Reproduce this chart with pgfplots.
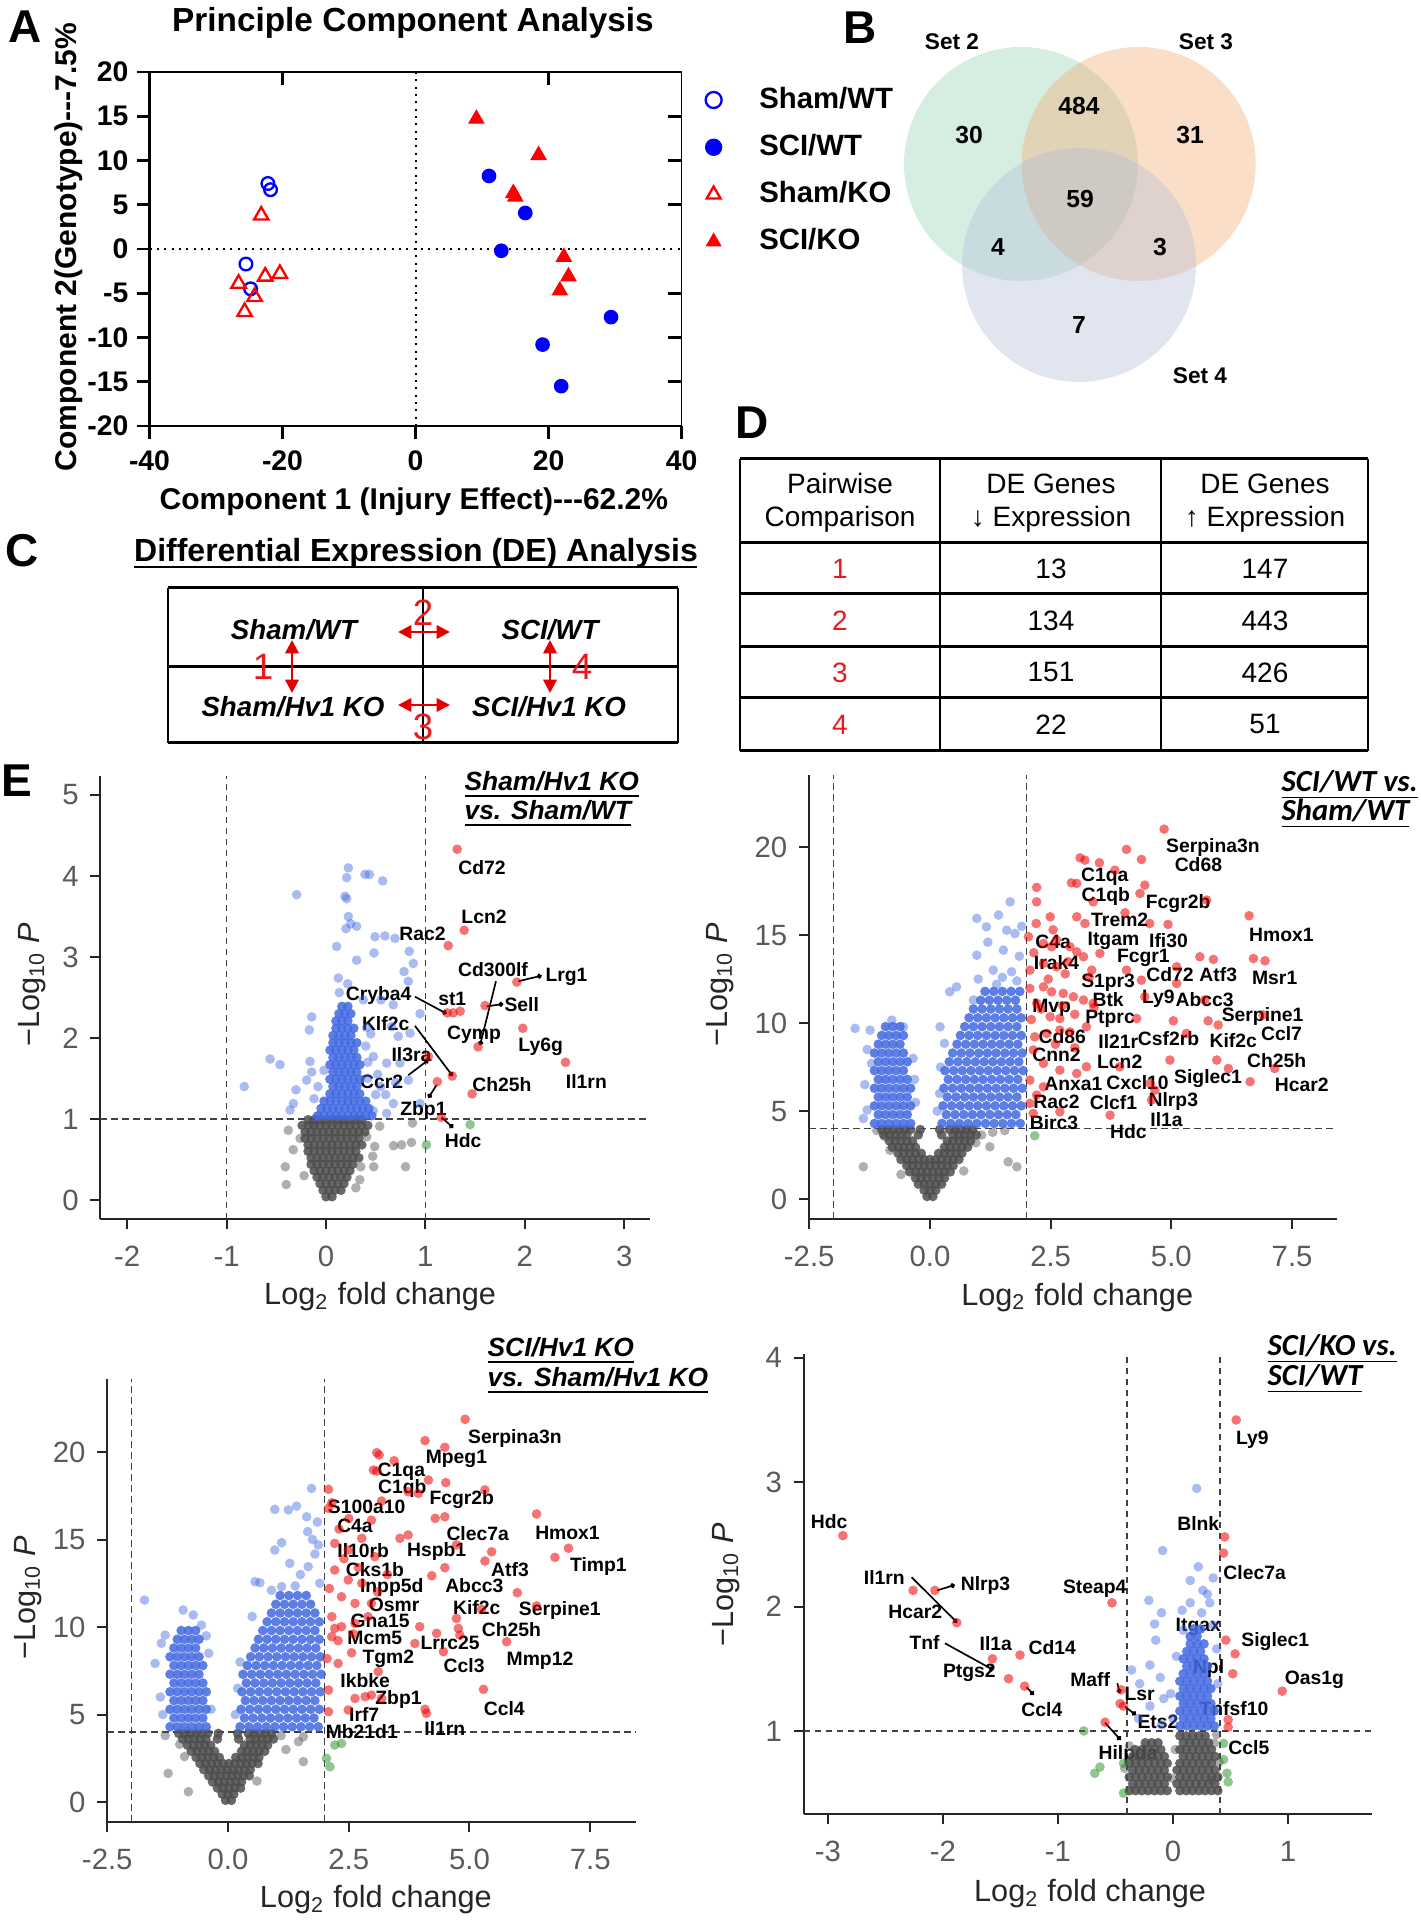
\documentclass[border=0pt]{standalone}
\usepackage{fontspec}
\setmainfont{Liberation Sans}
\newfontfamily\carlito{Carlito}
\usepackage{pgfplots}
\pgfplotsset{compat=1.18}
\usetikzlibrary{arrows.meta}

\definecolor{vgrey}{HTML}{4D4D4D}
\definecolor{vblue}{HTML}{4169E1}
\definecolor{vred}{HTML}{EE0000}
\definecolor{vgreen}{HTML}{228B22}
\definecolor{tickgrey}{HTML}{5A5A5A}
\definecolor{pcablue}{HTML}{0000FF}
\definecolor{pcared}{HTML}{FF0000}
\definecolor{cred}{HTML}{E8191C}
\definecolor{vennA}{HTML}{99D5B7}
\definecolor{vennB}{HTML}{F2AC75}
\definecolor{vennC}{HTML}{B4BED9}

\newcommand\gl[3]{\node[glab] at (axis cs:#1,#2) {#3};}
\newcommand\cn[4]{\draw[line width=0.5pt,-{Circle[length=1.5pt]}] (axis cs:#1,#2) -- (axis cs:#3,#4);}

\pgfplotsset{
 volc/.style={
  scale only axis, anchor=south west,
  axis lines*=left,
  axis line style={line width=0.6pt, draw=black!85, -},
  tick align=outside, major tick length=3pt,
  tick style={line width=0.6pt, color=black!85},
  ticklabel style={font=\fontsize{8.8}{10}\selectfont, text=tickgrey},
  xticklabel shift=1.6pt,
  /pgf/number format/assume math mode=true,
  label style={font=\fontsize{9.2}{11}\selectfont, text=black!85},
  xlabel={Log\textsubscript{2} fold change},
  ylabel={−Log\textsubscript{10} \textit{P}},
  clip=false,
 },
 gpt/.style={only marks, mark=*, mark size=1.45pt, color=vgrey, mark options={draw opacity=0, fill opacity=0.45}},
 gcore/.style={only marks, mark=*, mark size=1.45pt, color=vgrey, mark options={draw opacity=0, fill opacity=0.85}},
 bpt/.style={only marks, mark=*, mark size=1.45pt, color=vblue, mark options={draw opacity=0, fill opacity=0.45}},
 bcore/.style={only marks, mark=*, mark size=1.45pt, color=vblue, mark options={draw opacity=0, fill opacity=0.85}},
 rpt/.style={only marks, mark=*, mark size=1.45pt, color=vred, mark options={draw opacity=0, fill opacity=0.55}},
 gnpt/.style={only marks, mark=*, mark size=1.45pt, color=vgreen, mark options={draw opacity=0, fill opacity=0.5}},
}
\tikzset{
 glab/.style={font=\bfseries\fontsize{5.8}{6}\selectfont, inner sep=0pt, text=black},
 vdash/.style={dash pattern=on 2pt off 1.3pt, line width=0.45pt, black!75},
 pdot/.style={line width=0.6pt, dash pattern=on 0.6pt off 1.6pt},
}

\begin{document}
\begin{tikzpicture}
\useasboundingbox (0,0) rectangle (426pt,576pt);

% ---------------- A: PCA
\begin{axis}[
 scale only axis, anchor=south west, at={(44.85pt,448.2pt)},
 width=159.63pt, height=106.2pt,
 xmin=-40, xmax=40, ymin=-20, ymax=20,
 axis lines*=left, axis line style={line width=0.8pt, -},
 tick align=outside, major tick length=3.8pt, tick style={line width=0.8pt, black},
 xtick={-40,-20,0,20,40}, ytick={-20,-15,...,20},
 ticklabel style={font=\bfseries\fontsize{8.5}{10}\selectfont},
 yticklabel shift=-1pt,
 /pgf/number format/assume math mode=true,
 label style={font=\bfseries\fontsize{9}{11}\selectfont},
 xlabel={Component 1 (Injury Effect)-{}-{}-62.2\%},
 ylabel={Component 2(Genotype)-{}-{}-7.5\%},
 xlabel style={at={(axis description cs:0.497,-0.215)}, anchor=center},
 ylabel style={at={(axis description cs:-0.152,0.506)}, anchor=center},
 clip=false,
 legend style={at={(axis description cs:1.044,0.974)}, anchor=north west,
   draw=none, fill=none, inner sep=0pt, row sep=3.3pt,
   font=\bfseries\fontsize{8.8}{10}\selectfont, nodes={inner sep=1.5pt},
   /tikz/every odd column/.append style={column sep=9.8pt}},
 legend cell align=left,
 legend image post style={mark size=2.4pt},
]
\draw[pdot] (axis cs:0,-20) -- (axis cs:0,20);
\draw[pdot] (axis cs:-40,0) -- (axis cs:40,0);
\draw[line width=0.4pt] (axis cs:-40,20) -- (axis cs:40,20) -- (axis cs:40,-20);
\draw[line width=0.8pt] (axis cs:-20,20) -- ++(0pt,-4pt);
\draw[line width=0.8pt] (axis cs:20,20) -- ++(0pt,-4pt);
\draw[line width=0.8pt] (axis cs:40,15) -- ++(-4pt,0pt);
\draw[line width=0.8pt] (axis cs:40,10) -- ++(-4pt,0pt);
\draw[line width=0.8pt] (axis cs:40,5) -- ++(-4pt,0pt);
\draw[line width=0.8pt] (axis cs:40,-5) -- ++(-4pt,0pt);
\draw[line width=0.8pt] (axis cs:40,-10) -- ++(-4pt,0pt);
\draw[line width=0.8pt] (axis cs:40,-15) -- ++(-4pt,0pt);
\addplot[only marks, mark=o, mark size=1.9pt, pcablue, line width=0.7pt]
 coordinates {(-22.2,7.4) (-21.8,6.7) (-25.5,-1.7) (-24.8,-4.5)};
\addlegendentry{Sham/WT}
\addplot[only marks, mark=*, mark size=2pt, pcablue]
 coordinates {(11.05,8.25) (16.5,4.07) (12.9,-0.2) (29.4,-7.7) (19.1,-10.8) (21.9,-15.5)};
\addlegendentry{SCI/WT}
\addplot[only marks, mark=triangle, mark size=2.5pt, pcared, line width=0.7pt]
 coordinates {(-23.2,3.8) (-26.6,-3.9) (-22.6,-3.1) (-20.4,-2.8) (-24.2,-5.4) (-25.7,-7.1)};
\addlegendentry{Sham/KO}
\addplot[only marks, mark=triangle*, mark size=2.5pt, pcared]
 coordinates {(9.15,14.7) (18.5,10.6) (14.7,6.3) (15.0,5.9) (22.3,-0.9) (23.0,-3.1) (21.7,-4.7)};
\addlegendentry{SCI/KO}
\end{axis}

% ---------------- E1: Sham/Hv1 KO vs Sham/WT
\begin{axis}[volc, at={(30.12pt,210.18pt)}, width=164.88pt, height=132.9pt,
 xmin=-2.27, xmax=3.26, ymin=-0.24, ymax=5.23,
 xtick={-2,-1,0,1,2,3}, ytick={0,1,2,3,4,5},
 xlabel style={at={(axis description cs:0.509,-0.175)}, anchor=center},
 ylabel style={at={(axis description cs:-0.1245,0.53)}, anchor=center},
]
\draw[vdash] (axis cs:-1,-0.24) -- (axis cs:-1,5.23);
\draw[vdash] (axis cs:1,-0.24) -- (axis cs:1,5.23);
\draw[vdash] (axis cs:-2.27,1) -- (axis cs:3.26,1);
\addplot[gpt] coordinates {(-0.41,0.41) (-0.40,0.19) (-0.26,0.76) (-0.33,0.62) (-0.38,0.86) (-0.13,0.93) (0.48,0.41) (0.47,0.54) (0.49,0.66) (0.54,0.91) (0.80,0.41) (0.68,0.67) (0.76,0.68) (0.86,0.71) (0.87,0.95) (0.41,0.78) (0.34,0.25) (0.35,0.41) (-0.22,0.30) (0.30,0.15)};
\addplot[gcore] coordinates {(0.00,0.04) (0.06,0.04)
 (-0.03,0.12) (0.03,0.12) (0.09,0.12) (0.15,0.12)
 (-0.06,0.2) (0,0.2) (0.06,0.2) (0.12,0.2) (0.18,0.2)
 (-0.09,0.28) (-0.03,0.28) (0.03,0.28) (0.09,0.28) (0.15,0.28) (0.21,0.28)
 (-0.12,0.36) (-0.06,0.36) (0,0.36) (0.06,0.36) (0.12,0.36) (0.18,0.36) (0.24,0.36)
 (-0.15,0.44) (-0.09,0.44) (-0.03,0.44) (0.03,0.44) (0.09,0.44) (0.15,0.44) (0.21,0.44) (0.27,0.44)
 (-0.15,0.52) (-0.09,0.52) (-0.03,0.52) (0.03,0.52) (0.09,0.52) (0.15,0.52) (0.21,0.52) (0.27,0.52) (0.33,0.52)
 (-0.18,0.6) (-0.12,0.6) (-0.06,0.6) (0,0.6) (0.06,0.6) (0.12,0.6) (0.18,0.6) (0.24,0.6) (0.30,0.6)
 (-0.18,0.68) (-0.12,0.68) (-0.06,0.68) (0,0.68) (0.06,0.68) (0.12,0.68) (0.18,0.68) (0.24,0.68) (0.30,0.68) (0.36,0.68)
 (-0.21,0.76) (-0.15,0.76) (-0.09,0.76) (-0.03,0.76) (0.03,0.76) (0.09,0.76) (0.15,0.76) (0.21,0.76) (0.27,0.76) (0.33,0.76)
 (-0.21,0.84) (-0.15,0.84) (-0.09,0.84) (-0.03,0.84) (0.03,0.84) (0.09,0.84) (0.15,0.84) (0.21,0.84) (0.27,0.84) (0.33,0.84) (0.39,0.84)
 (-0.24,0.92) (-0.18,0.92) (-0.12,0.92) (-0.06,0.92) (0,0.92) (0.06,0.92) (0.12,0.92) (0.18,0.92) (0.24,0.92) (0.30,0.92) (0.36,0.92) (0.42,0.92)
 (-0.18,0.99) (-0.12,0.99) (-0.06,0.99) (0,0.99) (0.06,0.99) (0.12,0.99) (0.18,0.99) (0.24,0.99) (0.30,0.99) (0.36,0.99)};
\addplot[bpt] coordinates {(0.225,4.10) (0.208,3.98) (0.392,4.02) (0.436,4.02) (0.570,3.94) (-0.295,3.77) (0.208,3.72) (0.191,3.75) (0.225,3.50) (0.248,3.41) (0.308,3.38) (0.201,3.35) (0.493,3.25) (0.593,3.26) (0.694,3.23) (0.107,3.13) (0.483,3.05) (0.308,2.96) (0.838,3.07) (0.878,2.92) (0.785,2.82) (0.828,2.70) (0.124,2.74) (0.218,2.67) (0.134,2.56) (0.375,2.47) (0.553,2.47) (0.677,2.41) (0.946,2.30) (-0.144,2.26) (-0.168,2.10) (0.409,2.13) (0.660,2.14) (0.727,2.02) (0.845,2.06) (-0.563,1.74) (-0.463,1.67) (-0.161,1.71) (-0.144,1.58) (-0.302,1.36) (-0.822,1.40) (-0.329,1.19) (-0.195,1.48) (0.610,1.69) (0.744,1.69) (0.476,1.77) (0.677,1.19) (0.946,1.19) (0.828,1.48) (0.476,1.10) (0.610,1.07) (-0.362,1.11) (-0.094,1.03) (-0.12,1.25) (0.50,1.30) (0.55,1.40) (0.42,1.50) (0.42,1.70) (0.40,1.90) (0.45,2.05) (-0.02,1.60) (-0.08,1.40) (0.60,1.30) (0.70,1.45) (0.52,1.55)};
\addplot[bcore] coordinates {(-0.08,1.04) (-0.02,1.04) (0.04,1.04) (0.10,1.04) (0.16,1.04) (0.22,1.04) (0.28,1.04) (0.34,1.04) (0.40,1.04) (0.46,1.04)
 (-0.05,1.13) (0.01,1.13) (0.07,1.13) (0.13,1.13) (0.19,1.13) (0.25,1.13) (0.31,1.13) (0.37,1.13) (0.43,1.13)
 (-0.02,1.22) (0.04,1.22) (0.10,1.22) (0.16,1.22) (0.22,1.22) (0.28,1.22) (0.34,1.22) (0.40,1.22)
 (0.04,1.31) (0.10,1.31) (0.16,1.31) (0.22,1.31) (0.28,1.31) (0.34,1.31)
 (0.07,1.40) (0.13,1.40) (0.19,1.40) (0.25,1.40) (0.31,1.40)
 (0.04,1.49) (0.10,1.49) (0.16,1.49) (0.22,1.49) (0.28,1.49) (0.34,1.49)
 (0.07,1.58) (0.13,1.58) (0.19,1.58) (0.25,1.58) (0.31,1.58)
 (0.04,1.67) (0.10,1.67) (0.16,1.67) (0.22,1.67) (0.28,1.67) (0.34,1.67)
 (0.07,1.76) (0.13,1.76) (0.19,1.76) (0.25,1.76) (0.31,1.76)
 (0.04,1.85) (0.10,1.85) (0.16,1.85) (0.22,1.85) (0.28,1.85)
 (0.07,1.94) (0.13,1.94) (0.19,1.94) (0.25,1.94) (0.31,1.94)
 (0.07,2.03) (0.13,2.03) (0.19,2.03) (0.25,2.03)
 (0.10,2.12) (0.16,2.12) (0.22,2.12) (0.28,2.12)
 (0.10,2.21) (0.16,2.21) (0.22,2.21)
 (0.13,2.30) (0.19,2.30) (0.25,2.30)
 (0.16,2.39) (0.22,2.39)};
\addplot[gnpt] coordinates {(1.45,0.93) (1.01,0.68)};
\addplot[rpt] coordinates {(1.32,4.33) (1.39,3.33) (1.23,3.14) (1.92,2.69) (1.60,2.40) (1.22,2.31) (1.28,2.31) (1.35,2.33) (1.98,2.12) (1.53,1.89) (1.03,1.77) (2.41,1.70) (1.27,1.53) (1.12,1.46) (1.47,1.31) (1.16,1.02)};
\cn{1.71}{2.70}{1.55}{1.91}
\cn{1.935}{2.70}{2.17}{2.77}
\cn{1.616}{2.39}{1.784}{2.42}
\cn{0.895}{2.51}{1.214}{2.30}
\cn{0.895}{2.15}{1.274}{1.53}
\cn{0.828}{1.54}{1.03}{1.73}
\cn{1.113}{1.42}{1.03}{1.26}
\cn{1.164}{1.02}{1.28}{0.89}
\gl{1.57}{4.10}{Cd72}
\gl{1.59}{3.50}{Lcn2}
\gl{0.97}{3.28}{Rac2}
\gl{1.68}{2.84}{Cd300lf}
\gl{2.42}{2.75}{Lrg1}
\gl{1.97}{2.41}{Sell}
\gl{0.53}{2.53}{Cryba4}
\gl{1.27}{2.48}{st1}
\gl{0.60}{2.18}{Klf2c}
\gl{0.86}{1.80}{Il3ra}
\gl{0.56}{1.46}{Ccr2}
\gl{1.49}{2.04}{Cymp}
\gl{2.16}{1.89}{Ly6g}
\gl{2.62}{1.46}{Il1rn}
\gl{1.77}{1.43}{Ch25h}
\gl{0.98}{1.10}{Zbp1}
\gl{1.38}{0.73}{Hdc}
\end{axis}

% ---------------- E2: SCI/WT vs Sham/WT
\begin{axis}[volc, at={(242.7pt,210.3pt)}, width=158.4pt, height=133.26pt,
 xmin=-2.505, xmax=8.43, ymin=-1.13, ymax=24.11,
 xtick={-2.5,0,2.5,5,7.5}, xticklabels={-2.5,0.0,2.5,5.0,7.5}, ytick={0,5,10,15,20},
 xlabel style={at={(axis description cs:0.508,-0.176)}, anchor=center},
 ylabel style={at={(axis description cs:-0.169,0.528)}, anchor=center},
]
\draw[vdash] (axis cs:-2,-1.13) -- (axis cs:-2,24.11);
\draw[vdash] (axis cs:2,-1.13) -- (axis cs:2,24.11);
\draw[vdash] (axis cs:-2.505,4) -- (axis cs:8.43,4);
\addplot[gpt] coordinates {(-1.38,1.84) (1.80,1.84) (1.62,2.12) (1.07,3.64) (1.24,2.97) (-0.93,3.54) (-0.83,2.78) (1.30,3.80) (-1.10,3.90) (0.95,3.20) (1.55,3.90) (-0.60,1.40) (0.70,1.60)};
\addplot[gcore] coordinates {(-0.06,0.15) (0.06,0.15)
 (-0.12,0.5) (0,0.5) (0.12,0.5)
 (-0.24,0.85) (-0.12,0.85) (0,0.85) (0.12,0.85) (0.24,0.85)
 (-0.30,1.2) (-0.18,1.2) (-0.06,1.2) (0.06,1.2) (0.18,1.2) (0.30,1.2)
 (-0.42,1.55) (-0.30,1.55) (-0.18,1.55) (-0.06,1.55) (0.06,1.55) (0.18,1.55) (0.30,1.55) (0.42,1.55)
 (-0.48,1.9) (-0.36,1.9) (-0.24,1.9) (-0.12,1.9) (0,1.9) (0.12,1.9) (0.24,1.9) (0.36,1.9) (0.48,1.9)
 (-0.60,2.25) (-0.48,2.25) (-0.36,2.25) (-0.24,2.25) (-0.12,2.25) (0,2.25) (0.12,2.25) (0.24,2.25) (0.36,2.25) (0.48,2.25) (0.60,2.25)
 (-0.66,2.6) (-0.54,2.6) (-0.42,2.6) (-0.30,2.6) (-0.18,2.6) (0.18,2.6) (0.30,2.6) (0.42,2.6) (0.54,2.6) (0.66,2.6)
 (-0.78,2.95) (-0.66,2.95) (-0.54,2.95) (-0.42,2.95) (-0.30,2.95) (0.30,2.95) (0.42,2.95) (0.54,2.95) (0.66,2.95) (0.78,2.95)
 (-0.84,3.3) (-0.72,3.3) (-0.60,3.3) (-0.48,3.3) (-0.36,3.3) (0.36,3.3) (0.48,3.3) (0.60,3.3) (0.72,3.3) (0.84,3.3)
 (-0.96,3.65) (-0.84,3.65) (-0.72,3.65) (-0.60,3.65) (-0.48,3.65) (-0.24,3.65) (0.24,3.65) (0.48,3.65) (0.60,3.65) (0.72,3.65) (0.84,3.65) (0.96,3.65)
 (-1.00,3.95) (-0.88,3.95) (-0.76,3.95) (-0.64,3.95) (-0.52,3.95) (-0.40,3.95) (-0.20,3.95) (0.20,3.95) (0.40,3.95) (0.52,3.95) (0.64,3.95) (0.76,3.95) (0.88,3.95)};
\addplot[bpt] coordinates {(-1.55,9.70) (-1.24,9.60) (-1.38,4.58) (-1.21,7.71) (-1.30,5.06) (-0.79,10.17) (-0.55,9.79) (-1.30,8.50) (-1.35,6.50) (-0.35,8.00) (-0.30,5.50) (-0.32,6.80) (1.66,16.89) (1.42,16.14) (0.97,15.95) (1.17,15.47) (1.59,15.28) (1.76,15.09) (1.52,14.15) (0.97,13.86) (1.31,13.01) (1.69,12.92) (0.55,12.06) (0.41,11.78) (0.90,11.31) (1.38,12.20) (1.80,12.4) (0.21,9.79) (0.30,8.85) (1.20,14.60) (1.85,13.80) (1.50,12.60) (1.00,12.50) (1.90,15.50) (0.20,6.00) (0.15,5.00) (0.22,7.50)};
\addplot[bcore] coordinates {(-1.15,4.3) (-1.0,4.3) (-0.85,4.3) (-0.7,4.3) (-0.55,4.3) (-0.4,4.3)
 (-1.07,4.8) (-0.92,4.8) (-0.77,4.8) (-0.62,4.8) (-0.47,4.8)
 (-1.15,5.3) (-1.0,5.3) (-0.85,5.3) (-0.7,5.3) (-0.55,5.3) (-0.4,5.3)
 (-1.07,5.8) (-0.92,5.8) (-0.77,5.8) (-0.62,5.8) (-0.47,5.8)
 (-1.15,6.3) (-1.0,6.3) (-0.85,6.3) (-0.7,6.3) (-0.55,6.3) (-0.4,6.3)
 (-1.07,6.8) (-0.92,6.8) (-0.77,6.8) (-0.62,6.8) (-0.47,6.8)
 (-1.15,7.3) (-1.0,7.3) (-0.85,7.3) (-0.7,7.3) (-0.55,7.3)
 (-1.07,7.8) (-0.92,7.8) (-0.77,7.8) (-0.62,7.8) (-0.47,7.8)
 (-1.15,8.3) (-1.0,8.3) (-0.85,8.3) (-0.7,8.3) (-0.55,8.3)
 (-1.07,8.8) (-0.92,8.8) (-0.77,8.8) (-0.62,8.8)
 (-1.0,9.3) (-0.85,9.3) (-0.7,9.3) (-0.55,9.3)
 (-0.92,9.8) (-0.77,9.8) (-0.62,9.8)
 (0.25,4.3) (0.43,4.3) (0.61,4.3) (0.79,4.3) (0.97,4.3) (1.15,4.3) (1.33,4.3) (1.51,4.3) (1.69,4.3) (1.87,4.3)
 (0.34,4.8) (0.52,4.8) (0.70,4.8) (0.88,4.8) (1.06,4.8) (1.24,4.8) (1.42,4.8) (1.60,4.8) (1.78,4.8)
 (0.27,5.3) (0.45,5.3) (0.63,5.3) (0.81,5.3) (0.99,5.3) (1.17,5.3) (1.35,5.3) (1.53,5.3) (1.71,5.3) (1.89,5.3)
 (0.36,5.8) (0.54,5.8) (0.72,5.8) (0.90,5.8) (1.08,5.8) (1.26,5.8) (1.44,5.8) (1.62,5.8) (1.80,5.8)
 (0.29,6.3) (0.47,6.3) (0.65,6.3) (0.83,6.3) (1.01,6.3) (1.19,6.3) (1.37,6.3) (1.55,6.3) (1.73,6.3) (1.91,6.3)
 (0.38,6.8) (0.56,6.8) (0.74,6.8) (0.92,6.8) (1.10,6.8) (1.28,6.8) (1.46,6.8) (1.64,6.8) (1.82,6.8)
 (0.31,7.3) (0.49,7.3) (0.67,7.3) (0.85,7.3) (1.03,7.3) (1.21,7.3) (1.39,7.3) (1.57,7.3) (1.75,7.3) (1.93,7.3)
 (0.40,7.8) (0.58,7.8) (0.76,7.8) (0.94,7.8) (1.12,7.8) (1.30,7.8) (1.48,7.8) (1.66,7.8) (1.84,7.8)
 (0.47,8.3) (0.65,8.3) (0.83,8.3) (1.01,8.3) (1.19,8.3) (1.37,8.3) (1.55,8.3) (1.73,8.3) (1.91,8.3)
 (0.56,8.8) (0.74,8.8) (0.92,8.8) (1.10,8.8) (1.28,8.8) (1.46,8.8) (1.64,8.8) (1.82,8.8)
 (0.63,9.3) (0.81,9.3) (0.99,9.3) (1.17,9.3) (1.35,9.3) (1.53,9.3) (1.71,9.3) (1.89,9.3)
 (0.72,9.8) (0.90,9.8) (1.08,9.8) (1.26,9.8) (1.44,9.8) (1.62,9.8) (1.80,9.8)
 (0.81,10.3) (0.99,10.3) (1.17,10.3) (1.35,10.3) (1.53,10.3) (1.71,10.3) (1.89,10.3)
 (0.90,10.8) (1.08,10.8) (1.26,10.8) (1.44,10.8) (1.62,10.8) (1.80,10.8)
 (1.05,11.3) (1.23,11.3) (1.41,11.3) (1.59,11.3) (1.77,11.3)
 (1.14,11.8) (1.32,11.8) (1.50,11.8) (1.68,11.8) (1.86,11.8)};
\addplot[gnpt] coordinates {(2.17,3.60)};
\addplot[rpt] coordinates {(4.85,21.02) (4.07,19.87) (4.38,19.30) (3.11,19.39) (3.21,19.26) (3.51,19.11) (3.83,18.69) (3.04,17.94) (2.93,17.97) (4.45,17.84) (4.35,17.37) (2.21,17.71) (2.21,16.89) (5.73,16.99) (3.38,16.89) (4.04,16.27) (6.61,16.10) (2.49,16.04) (3.04,16.04) (2.20,15.66) (3.21,15.66) (4.93,15.61) (4.55,15.66) (2.04,14.91) (2.35,14.53) (2.52,14.34) (2.62,14.72) (2.90,14.34) (3.04,14.05) (3.18,13.77) (3.52,13.96) (5.59,13.77) (5.87,13.62) (6.70,13.67) (6.94,13.54) (5.11,13.20) (4.07,13.01) (2.07,13.01) (2.35,13.39) (2.62,13.20) (2.86,13.49) (3.35,13.01) (5.11,12.25) (4.38,12.44) (2.07,11.97) (2.35,12.06) (2.52,11.78) (2.76,11.69) (2.97,11.50) (3.18,11.31) (3.38,11.12) (4.45,11.50) (5.69,11.31) (2.21,11.12) (2.49,10.36) (2.69,10.26) (5.04,10.13) (5.76,10.13) (6.90,10.46) (4.28,10.26) (2.17,9.22) (2.42,9.41) (2.69,9.60) (3.24,9.79) (5.31,9.41) (5.97,9.89) (2.14,8.47) (2.35,7.71) (2.69,7.33) (4.97,7.90) (5.94,7.90) (6.18,7.42) (7.14,7.42) (3.24,7.52) (3.93,7.52) (2.07,6.76) (2.35,6.38) (2.21,5.91) (3.04,7.14) (6.63,6.67) (4.56,6.57) (4.66,6.19) (2.07,5.44) (2.69,4.96) (3.73,4.77) (4.59,5.63) (2.14,4.87) (3.00,10.50) (3.40,10.90) (2.80,12.80) (3.30,12.60) (2.30,10.80) (2.60,8.80) (3.00,8.60) (2.90,9.50) (2.10,10.2) (2.45,12.5) (2.75,11.0) (2.15,14.0) (2.55,15.3)};
\gl{5.86}{19.96}{Serpina3n}
\gl{5.56}{18.98}{Cd68}
\gl{3.62}{18.31}{C1qa}
\gl{3.64}{17.18}{C1qb}
\gl{5.14}{16.80}{Fcgr2b}
\gl{3.93}{15.85}{Trem2}
\gl{7.28}{15.00}{Hmox1}
\gl{2.55}{14.62}{C4a}
\gl{3.80}{14.68}{Itgam}
\gl{4.94}{14.68}{Ifi30}
\gl{2.62}{13.43}{Irak4}
\gl{4.42}{13.68}{Fcgr1}
\gl{4.97}{12.73}{Cd72}
\gl{5.97}{12.73}{Atf3}
\gl{7.14}{12.54}{Msr1}
\gl{3.69}{12.29}{S1pr3}
\gl{3.69}{11.31}{Btk}
\gl{4.73}{11.40}{Ly9}
\gl{5.69}{11.31}{Abcc3}
\gl{2.52}{10.89}{Mvp}
\gl{6.89}{10.36}{Serpine1}
\gl{3.73}{10.27}{Ptprc}
\gl{7.28}{9.41}{Ccl7}
\gl{2.74}{9.22}{Cd86}
\gl{3.90}{8.97}{Il21r}
\gl{4.94}{9.13}{Csf2rb}
\gl{6.28}{9.03}{Kif2c}
\gl{2.62}{8.18}{Cnn2}
\gl{7.18}{7.86}{Ch25h}
\gl{3.93}{7.80}{Lcn2}
\gl{2.97}{6.53}{Anxa1}
\gl{4.30}{6.62}{Cxcl10}
\gl{5.76}{6.86}{Siglec1}
\gl{7.70}{6.48}{Hcar2}
\gl{2.62}{5.53}{Rac2}
\gl{3.80}{5.47}{Clcf1}
\gl{5.04}{5.57}{Nlrp3}
\gl{4.90}{4.49}{Il1a}
\gl{2.57}{4.36}{Birc3}
\gl{4.11}{3.83}{Hdc}
\end{axis}

% ---------------- E3: SCI/Hv1 KO vs Sham/Hv1 KO
\begin{axis}[volc, at={(32.18pt,29.4pt)}, width=158.64pt, height=133.05pt,
 xmin=-2.5, xmax=8.45, ymin=-1.14, ymax=24.2,
 xtick={-2.5,0,2.5,5,7.5}, xticklabels={-2.5,0.0,2.5,5.0,7.5}, ytick={0,5,10,15,20},
 xlabel style={at={(axis description cs:0.508,-0.176)}, anchor=center},
 ylabel style={at={(axis description cs:-0.150,0.506)}, anchor=center},
]
\draw[vdash] (axis cs:-2,-1.14) -- (axis cs:-2,24.2);
\draw[vdash] (axis cs:2,-1.14) -- (axis cs:2,24.2);
\draw[vdash] (axis cs:-2.5,4) -- (axis cs:8.45,4);
\addplot[gpt] coordinates {(-1.24,1.64) (-0.82,0.59) (1.56,2.31) (1.56,3.73) (1.46,3.45) (-1.00,3.30) (1.20,3.00) (-0.90,2.60) (-1.30,3.80) (1.10,3.80) (0.60,1.20)};
\addplot[gcore] coordinates {(-0.05,0.1) (0.07,0.1)
 (-0.12,0.45) (0,0.45) (0.12,0.45)
 (-0.22,0.8) (-0.10,0.8) (0.02,0.8) (0.14,0.8) (0.26,0.8)
 (-0.32,1.15) (-0.20,1.15) (-0.08,1.15) (0.04,1.15) (0.16,1.15) (0.28,1.15)
 (-0.40,1.5) (-0.28,1.5) (-0.16,1.5) (-0.04,1.5) (0.08,1.5) (0.20,1.5) (0.32,1.5) (0.44,1.5)
 (-0.50,1.85) (-0.38,1.85) (-0.26,1.85) (-0.14,1.85) (-0.02,1.85) (0.10,1.85) (0.22,1.85) (0.34,1.85) (0.46,1.85)
 (-0.58,2.2) (-0.46,2.2) (-0.34,2.2) (-0.22,2.2) (-0.10,2.2) (0.02,2.2) (0.14,2.2) (0.26,2.2) (0.38,2.2) (0.50,2.2) (0.62,2.2)
 (-0.66,2.55) (-0.54,2.55) (-0.42,2.55) (-0.30,2.55) (-0.18,2.55) (0.16,2.55) (0.28,2.55) (0.40,2.55) (0.52,2.55) (0.64,2.55)
 (-0.76,2.9) (-0.64,2.9) (-0.52,2.9) (-0.40,2.9) (-0.28,2.9) (0.28,2.9) (0.40,2.9) (0.52,2.9) (0.64,2.9) (0.76,2.9)
 (-0.84,3.25) (-0.72,3.25) (-0.60,3.25) (-0.48,3.25) (-0.36,3.25) (0.34,3.25) (0.46,3.25) (0.58,3.25) (0.70,3.25) (0.82,3.25)
 (-0.94,3.6) (-0.82,3.6) (-0.70,3.6) (-0.58,3.6) (-0.46,3.6) (-0.22,3.6) (0.22,3.6) (0.46,3.6) (0.58,3.6) (0.70,3.6) (0.82,3.6) (0.94,3.6)
 (-1.02,3.92) (-0.90,3.92) (-0.78,3.92) (-0.66,3.92) (-0.54,3.92) (-0.42,3.92) (-0.20,3.92) (0.20,3.92) (0.42,3.92) (0.54,3.92) (0.66,3.92) (0.78,3.92) (0.90,3.92)};
\addplot[bpt] coordinates {(-1.73,11.54) (-1.51,7.92) (-0.93,10.97) (-0.72,10.69) (-0.55,10.11) (-1.30,9.54) (-1.38,9.07) (-1.40,6.00) (-0.40,8.50) (-0.35,5.30) (-1.35,5.00) (-0.45,9.50) (1.73,17.92) (0.97,16.72) (1.25,16.69) (1.42,16.91) (1.63,16.30) (1.65,15.45) (1.87,14.69) (1.11,14.82) (0.97,14.40) (1.80,14.17) (1.66,13.45) (1.28,13.64) (0.56,12.59) (0.66,12.53) (0.90,12.10) (1.11,12.31) (1.39,12.35) (0.50,10.60) (1.90,12.50) (1.50,13.00) (1.85,16.00) (1.75,15.00) (0.20,6.50) (0.15,5.00) (0.25,8.0)};
\addplot[bcore] coordinates {(-1.2,4.3) (-1.05,4.3) (-0.9,4.3) (-0.75,4.3) (-0.6,4.3) (-0.45,4.3)
 (-1.12,4.8) (-0.97,4.8) (-0.82,4.8) (-0.67,4.8) (-0.52,4.8)
 (-1.2,5.3) (-1.05,5.3) (-0.9,5.3) (-0.75,5.3) (-0.6,5.3) (-0.45,5.3)
 (-1.12,5.8) (-0.97,5.8) (-0.82,5.8) (-0.67,5.8) (-0.52,5.8)
 (-1.2,6.3) (-1.05,6.3) (-0.9,6.3) (-0.75,6.3) (-0.6,6.3) (-0.45,6.3)
 (-1.12,6.8) (-0.97,6.8) (-0.82,6.8) (-0.67,6.8) (-0.52,6.8)
 (-1.2,7.3) (-1.05,7.3) (-0.9,7.3) (-0.75,7.3) (-0.6,7.3)
 (-1.12,7.8) (-0.97,7.8) (-0.82,7.8) (-0.67,7.8) (-0.52,7.8)
 (-1.2,8.3) (-1.05,8.3) (-0.9,8.3) (-0.75,8.3) (-0.6,8.3)
 (-1.12,8.8) (-0.97,8.8) (-0.82,8.8) (-0.67,8.8)
 (-1.05,9.3) (-0.9,9.3) (-0.75,9.3) (-0.6,9.3)
 (-0.97,9.8) (-0.82,9.8) (-0.67,9.8)
 (0.25,4.3) (0.43,4.3) (0.61,4.3) (0.79,4.3) (0.97,4.3) (1.15,4.3) (1.33,4.3) (1.51,4.3) (1.69,4.3) (1.87,4.3)
 (0.34,4.8) (0.52,4.8) (0.70,4.8) (0.88,4.8) (1.06,4.8) (1.24,4.8) (1.42,4.8) (1.60,4.8) (1.78,4.8)
 (0.27,5.3) (0.45,5.3) (0.63,5.3) (0.81,5.3) (0.99,5.3) (1.17,5.3) (1.35,5.3) (1.53,5.3) (1.71,5.3) (1.89,5.3)
 (0.36,5.8) (0.54,5.8) (0.72,5.8) (0.90,5.8) (1.08,5.8) (1.26,5.8) (1.44,5.8) (1.62,5.8) (1.80,5.8)
 (0.29,6.3) (0.47,6.3) (0.65,6.3) (0.83,6.3) (1.01,6.3) (1.19,6.3) (1.37,6.3) (1.55,6.3) (1.73,6.3) (1.91,6.3)
 (0.38,6.8) (0.56,6.8) (0.74,6.8) (0.92,6.8) (1.10,6.8) (1.28,6.8) (1.46,6.8) (1.64,6.8) (1.82,6.8)
 (0.31,7.3) (0.49,7.3) (0.67,7.3) (0.85,7.3) (1.03,7.3) (1.21,7.3) (1.39,7.3) (1.57,7.3) (1.75,7.3) (1.93,7.3)
 (0.40,7.8) (0.58,7.8) (0.76,7.8) (0.94,7.8) (1.12,7.8) (1.30,7.8) (1.48,7.8) (1.66,7.8) (1.84,7.8)
 (0.47,8.3) (0.65,8.3) (0.83,8.3) (1.01,8.3) (1.19,8.3) (1.37,8.3) (1.55,8.3) (1.73,8.3) (1.91,8.3)
 (0.56,8.8) (0.74,8.8) (0.92,8.8) (1.10,8.8) (1.28,8.8) (1.46,8.8) (1.64,8.8) (1.82,8.8)
 (0.63,9.3) (0.81,9.3) (0.99,9.3) (1.17,9.3) (1.35,9.3) (1.53,9.3) (1.71,9.3) (1.89,9.3)
 (0.72,9.8) (0.90,9.8) (1.08,9.8) (1.26,9.8) (1.44,9.8) (1.62,9.8) (1.80,9.8)
 (0.81,10.3) (0.99,10.3) (1.17,10.3) (1.35,10.3) (1.53,10.3) (1.71,10.3) (1.89,10.3)
 (0.90,10.8) (1.08,10.8) (1.26,10.8) (1.44,10.8) (1.62,10.8) (1.80,10.8)
 (0.99,11.3) (1.17,11.3) (1.35,11.3) (1.53,11.3) (1.71,11.3)
 (1.08,11.8) (1.26,11.8) (1.44,11.8) (1.62,11.8)};
\addplot[gnpt] coordinates {(2.21,3.26) (2.35,3.35) (2.04,2.50) (2.11,2.02)};
\addplot[rpt] coordinates {(4.91,21.87) (4.08,20.65) (4.49,20.27) (3.08,19.96) (3.13,19.83) (3.44,19.50) (3.01,18.97) (3.08,18.91) (4.15,18.40) (4.51,18.25) (5.32,17.83) (2.08,17.87) (3.73,17.73) (3.94,17.64) (3.18,17.20) (2.08,16.78) (2.15,17.10) (4.29,16.21) (4.49,16.30) (6.39,16.46) (2.97,16.11) (3.56,15.07) (3.73,15.26) (7.05,14.50) (6.77,13.98) (5.46,14.30) (5.32,13.77) (4.73,14.69) (4.49,13.39) (4.22,12.93) (5.99,11.96) (6.39,11.20) (5.25,11.01) (4.73,10.49) (4.77,9.92) (4.80,9.54) (4.32,9.64) (3.97,10.02) (3.87,9.06) (4.46,8.59) (5.77,9.16) (5.29,6.44) (4.08,5.30) (4.11,5.07) (2.56,8.53) (2.28,7.92) (2.28,9.22) (2.21,9.92) (2.08,6.40) (2.63,5.92) (2.84,6.02) (2.97,6.11) (2.49,5.26) (2.08,5.16) (3.18,5.92) (3.11,7.45) (2.21,14.78) (2.49,14.40) (2.77,15.07) (3.04,14.02) (2.21,13.26) (2.49,12.69) (2.77,12.50) (2.35,11.73) (2.63,11.35) (2.97,11.35) (2.15,10.59) (2.35,10.02) (2.63,10.21) (2.90,10.59) (2.15,9.45) (3.30,13.00) (3.10,12.00) (2.50,16.20) (2.30,15.60) (2.10,12.2) (2.40,13.9) (2.70,13.4) (2.60,9.6) (2.05,8.2)};
\gl{5.94}{20.78}{Serpina3n}
\gl{4.73}{19.58}{Mpeg1}
\gl{3.59}{18.88}{C1qa}
\gl{3.61}{17.92}{C1qb}
\gl{4.84}{17.26}{Fcgr2b}
\gl{2.87}{16.84}{S100a10}
\gl{7.03}{15.39}{Hmox1}
\gl{2.63}{15.77}{C4a}
\gl{5.17}{15.35}{Clec7a}
\gl{2.80}{14.34}{Il10rb}
\gl{4.32}{14.30}{Hspb1}
\gl{7.67}{13.45}{Timp1}
\gl{3.04}{13.26}{Cks1b}
\gl{5.84}{13.30}{Atf3}
\gl{3.39}{12.27}{Inpp5d}
\gl{5.10}{12.34}{Abcc3}
\gl{3.44}{11.26}{Osmr}
\gl{5.15}{11.12}{Kif2c}
\gl{6.87}{10.93}{Serpine1}
\gl{3.15}{10.36}{Gna15}
\gl{5.87}{9.87}{Ch25h}
\gl{3.04}{9.35}{Mcm5}
\gl{4.60}{9.07}{Lrrc25}
\gl{3.32}{8.21}{Tgm2}
\gl{4.89}{7.77}{Ccl3}
\gl{6.46}{8.08}{Mmp12}
\gl{2.84}{6.93}{Ikbke}
\gl{3.53}{5.87}{Zbp1}
\gl{5.72}{5.35}{Ccl4}
\gl{2.82}{5.03}{Irf7}
\gl{4.49}{4.21}{Il1rn}
\gl{2.77}{4.02}{Mb21d1}
\end{axis}

% ---------------- E4: SCI/KO vs SCI/WT
\begin{axis}[volc, at={(241.14pt,31.71pt)}, width=170.43pt, height=138.08pt,
 xmin=-3.21, xmax=1.73, ymin=0.33, ymax=4.03,
 xtick={-3,-2,-1,0,1}, ytick={1,2,3,4},
 xlabel style={at={(axis description cs:0.504,-0.172)}, anchor=center},
 ylabel style={at={(axis description cs:-0.137,0.498)}, anchor=center},
]
\draw[vdash] (axis cs:-0.4,0.33) -- (axis cs:-0.4,4.03);
\draw[vdash] (axis cs:0.41,0.33) -- (axis cs:0.41,4.03);
\draw[vdash] (axis cs:-3.21,1) -- (axis cs:1.73,1);
\addplot[gpt] coordinates {(0.36,0.90) (0.40,0.75) (-0.42,0.70) (0.38,0.97) (-0.38,0.88) (0.34,0.60) (0.02,0.85) (-0.01,0.62)};
\addplot[gcore] coordinates {(-0.38,0.52) (-0.325,0.52) (-0.27,0.52) (-0.215,0.52) (-0.16,0.52) (-0.105,0.52) (-0.05,0.52) (0.06,0.52) (0.115,0.52) (0.17,0.52) (0.225,0.52) (0.28,0.52) (0.335,0.52) (0.39,0.52)
 (-0.35,0.575) (-0.295,0.575) (-0.24,0.575) (-0.185,0.575) (-0.13,0.575) (-0.075,0.575) (0.035,0.575) (0.09,0.575) (0.145,0.575) (0.2,0.575) (0.255,0.575) (0.31,0.575) (0.365,0.575)
 (-0.38,0.63) (-0.325,0.63) (-0.27,0.63) (-0.215,0.63) (-0.16,0.63) (-0.105,0.63) (-0.05,0.63) (0.06,0.63) (0.115,0.63) (0.17,0.63) (0.225,0.63) (0.28,0.63) (0.335,0.63) (0.39,0.63)
 (-0.35,0.685) (-0.295,0.685) (-0.24,0.685) (-0.185,0.685) (-0.13,0.685) (-0.075,0.685) (0.035,0.685) (0.09,0.685) (0.145,0.685) (0.2,0.685) (0.255,0.685) (0.31,0.685) (0.365,0.685)
 (-0.38,0.74) (-0.325,0.74) (-0.27,0.74) (-0.215,0.74) (-0.16,0.74) (-0.105,0.74) (-0.05,0.74) (0.06,0.74) (0.115,0.74) (0.17,0.74) (0.225,0.74) (0.28,0.74) (0.335,0.74)
 (-0.35,0.795) (-0.295,0.795) (-0.24,0.795) (-0.185,0.795) (-0.13,0.795) (-0.075,0.795) (0.09,0.795) (0.145,0.795) (0.2,0.795) (0.255,0.795) (0.31,0.795) (0.365,0.795)
 (-0.33,0.85) (-0.27,0.85) (-0.215,0.85) (-0.16,0.85) (-0.105,0.85) (0.06,0.85) (0.115,0.85) (0.17,0.85) (0.225,0.85) (0.28,0.85) (0.335,0.85)
 (-0.24,0.905) (-0.185,0.905) (-0.13,0.905) (0.09,0.905) (0.145,0.905) (0.2,0.905) (0.255,0.905) (0.31,0.905)
 (0.06,0.96) (0.115,0.96) (0.17,0.96) (0.225,0.96) (0.28,0.96)};
\addplot[bpt] coordinates {(0.206,2.95) (-0.09,2.45) (0.22,2.32) (0.15,2.21) (0.35,2.23) (0.26,2.13) (0.32,2.03) (-0.21,2.05) (-0.10,1.95) (-0.16,1.86) (0.08,1.97) (0.15,2.03) (-0.15,1.73) (0.09,1.81) (-0.20,1.53) (-0.11,1.43) (-0.36,1.49) (-0.29,1.38) (-0.08,1.26) (-0.20,1.20) (0.38,1.66) (0.39,1.38) (0.30,2.10) (0.25,1.95) (0.35,1.85) (0.03,1.60) (-0.02,1.30) (0.00,1.10) (-0.30,1.10) (-0.10,1.05)};
\addplot[bcore] coordinates {(0.06,1.04) (0.12,1.04) (0.18,1.04) (0.24,1.04) (0.30,1.04) (0.36,1.04)
 (0.09,1.10) (0.15,1.10) (0.21,1.10) (0.27,1.10) (0.33,1.10)
 (0.06,1.16) (0.12,1.16) (0.18,1.16) (0.24,1.16) (0.30,1.16) (0.36,1.16)
 (0.09,1.22) (0.15,1.22) (0.21,1.22) (0.27,1.22) (0.33,1.22)
 (0.06,1.28) (0.12,1.28) (0.18,1.28) (0.24,1.28) (0.30,1.28)
 (0.09,1.34) (0.15,1.34) (0.21,1.34) (0.27,1.34) (0.33,1.34)
 (0.06,1.40) (0.12,1.40) (0.18,1.40) (0.24,1.40) (0.30,1.40)
 (0.09,1.46) (0.15,1.46) (0.21,1.46) (0.27,1.46)
 (0.12,1.52) (0.18,1.52) (0.24,1.52) (0.30,1.52)
 (0.09,1.58) (0.15,1.58) (0.21,1.58) (0.27,1.58)
 (0.12,1.64) (0.18,1.64) (0.24,1.64)
 (0.15,1.70) (0.21,1.70) (0.27,1.70)
 (0.15,1.76) (0.21,1.76)
 (0.18,1.82) (0.24,1.82)};
\addplot[gnpt] coordinates {(-0.775,1.00) (-0.635,0.71) (-0.68,0.66) (-0.43,0.50) (-0.43,0.74) (0.44,0.77) (0.47,0.66) (0.48,0.59) (0.44,0.90)};
\addplot[rpt] coordinates {(-2.87,2.57) (0.55,3.50) (0.45,2.56) (0.44,2.43) (-2.26,2.13) (-2.07,2.13) (-1.88,1.87) (-0.53,2.03) (-1.57,1.58) (-1.33,1.61) (-1.43,1.42) (-1.29,1.36) (0.46,1.73) (0.54,1.62) (0.52,1.46) (0.95,1.32) (-0.45,1.33) (-0.46,1.22) (-0.43,1.20) (-0.59,1.07) (0.48,1.09) (0.48,1.03)};
\cn{-2.273}{2.236}{-1.876}{1.871}
\cn{-2.05}{2.13}{-1.896}{2.174}
\cn{-1.983}{1.705}{-1.563}{1.491}
\cn{-1.273}{1.351}{-1.209}{1.290}
\cn{-0.484}{1.384}{-0.461}{1.303}
\cn{-0.418}{1.196}{-0.322}{1.129}
\cn{-0.592}{1.067}{-0.455}{0.928}
\gl{-2.99}{2.68}{Hdc}
\gl{0.69}{3.34}{Ly9}
\gl{0.22}{2.67}{Blnk}
\gl{0.71}{2.27}{Clec7a}
\gl{-2.51}{2.23}{Il1rn}
\gl{-1.63}{2.17}{Nlrp3}
\gl{-0.68}{2.14}{Steap4}
\gl{-2.24}{1.96}{Hcar2}
\gl{0.22}{1.84}{Itgax}
\gl{0.89}{1.72}{Siglec1}
\gl{-2.16}{1.71}{Tnf}
\gl{-1.54}{1.70}{Il1a}
\gl{-1.05}{1.67}{Cd14}
\gl{-1.77}{1.47}{Ptgs2}
\gl{0.31}{1.50}{Npl}
\gl{1.23}{1.41}{Oas1g}
\gl{-0.72}{1.41}{Maff}
\gl{-0.29}{1.30}{Lsr}
\gl{-1.14}{1.17}{Ccl4}
\gl{0.53}{1.18}{Tnfsf10}
\gl{-0.13}{1.07}{Ets2}
\gl{0.66}{0.87}{Ccl5}
\gl{-0.39}{0.81}{Hilpda}
\end{axis}

% ---------------- everything placed in pixel units of the page
\begin{scope}[x=0.3pt, y=-0.3pt, shift={(0pt,576pt)}]
% panel letters
\node[font=\bfseries\fontsize{13.8}{15}\selectfont] at (25,27) {A};
\node[font=\bfseries\fontsize{13.8}{15}\selectfont] at (860,28) {B};
\node[font=\bfseries\fontsize{13.8}{15}\selectfont] at (22,551) {C};
\node[font=\bfseries\fontsize{13.8}{15}\selectfont] at (752,423) {D};
\node[font=\bfseries\fontsize{13.8}{15}\selectfont] at (17,781) {E};
% A title
\node[font=\bfseries\fontsize{10}{12}\selectfont] at (413,23) {Principle Component Analysis};

% B: Venn
\fill[vennA, fill opacity=0.4] (1021,164) circle[radius=117];
\fill[vennB, fill opacity=0.4] (1138.6,164) circle[radius=117];
\fill[vennC, fill opacity=0.4] (1079,265) circle[radius=117];
\begin{scope}[every node/.style={font=\bfseries\fontsize{6.8}{8}\selectfont}]
\node at (952,42) {Set 2};
\node at (1206,42) {Set 3};
\node at (1200,376) {Set 4};
\end{scope}
\begin{scope}[every node/.style={font=\bfseries\fontsize{7.4}{8}\selectfont}]
\node at (1079,106) {484};
\node at (969,135) {30};
\node at (1190,135) {31};
\node at (1080,199) {59};
\node at (998,247) {4};
\node at (1160,247) {3};
\node at (1079,325) {7};
\end{scope}

% C: DE analysis scheme
\node[font=\bfseries\fontsize{9.6}{11}\selectfont, anchor=base] at (416,562) {Differential Expression (DE) Analysis};
\draw[line width=0.7pt] (134,567) -- (697,567);
\draw[line width=0.9pt] (167.6,588) -- (677.5,588);
\draw[line width=0.9pt] (167.6,743) -- (677.5,743);
\draw[line width=0.9pt] (167.6,667) -- (677.5,667);
\draw[line width=0.6pt] (167.6,588) -- (167.6,743);
\draw[line width=0.6pt] (677.5,588) -- (677.5,743);
\draw[line width=0.4pt] (423,588) -- (423,743);
\begin{scope}[every node/.style={font=\bfseries\itshape\fontsize{8.3}{10}\selectfont}]
\node at (294,630) {Sham/WT};
\node at (550,630) {SCI/WT};
\node at (293,707) {Sham/Hv1 KO};
\node at (549,707) {SCI/Hv1 KO};
\end{scope}
\begin{scope}[red!90!black, line width=0.8pt, {Triangle[length=4pt,width=4pt]}-{Triangle[length=4pt,width=4pt]}]
\draw (398,632) -- (450,632);
\draw (398,705) -- (450,705);
\draw (292,640) -- (292,693);
\draw (550,640) -- (550,693);
\end{scope}
\begin{scope}[every node/.style={font=\fontsize{11}{12}\selectfont, text=cred}]
\node at (423,613) {2};
\node at (263,667) {1};
\node at (582,667) {4};
\node at (423,727) {3};
\end{scope}

% D: table
\draw[line width=0.9pt] (740,459) -- (1368,459);
\draw[line width=0.9pt] (740,543) -- (1368,543);
\draw[line width=0.9pt] (740,594) -- (1368,594);
\draw[line width=0.9pt] (740,647) -- (1368,647);
\draw[line width=0.9pt] (740,698) -- (1368,698);
\draw[line width=0.9pt] (740,751) -- (1368,751);
\draw[line width=0.7pt] (740,459) -- (740,751);
\draw[line width=0.7pt] (1368,459) -- (1368,751);
\draw[line width=0.45pt] (940,459) -- (940,751);
\draw[line width=0.45pt] (1161,459) -- (1161,751);
\begin{scope}[every node/.style={font=\fontsize{8.4}{9.9}\selectfont, align=center}]
\node at (840,503) {Pairwise\\Comparison};
\node at (1051,503) {DE Genes\\↓ Expression};
\node at (1265,503) {DE Genes\\↑ Expression};
\node[text=cred] at (840,568.5) {1};
\node[text=cred] at (840,620.5) {2};
\node[text=cred] at (840,672.5) {3};
\node[text=cred] at (840,724.5) {4};
\node at (1051,568.5) {13};
\node at (1051,620.5) {134};
\node at (1051,672.5) {151};
\node at (1051,724.5) {22};
\node at (1265,568.5) {147};
\node at (1265,620.5) {443};
\node at (1265,672.5) {426};
\node at (1265,724.5) {51};
\end{scope}

% E: panel titles
\begin{scope}[every node/.style={font=\bfseries\itshape\fontsize{7.9}{9}\selectfont, anchor=west, inner sep=0pt}]
\node at (464,785) {\underline{Sham/Hv1 KO}};
\node at (464,814) {\underline{vs. Sham/WT}};
\node at (487,1351) {\underline{SCI/Hv1 KO}};
\node at (487,1381) {\underline{vs. Sham/Hv1 KO}};
\end{scope}
\begin{scope}[every node/.style={font=\carlito\bfseries\itshape\fontsize{9.2}{10}\selectfont, anchor=west, inner sep=0pt}]
\node at (1281,785) {\underline{SCI/WT vs.}};
\node at (1281,814) {\underline{Sham/WT}};
\node at (1267,1349) {\underline{SCI/KO vs.}};
\node at (1267,1379) {\underline{SCI/WT}};
\end{scope}
\end{scope}
\end{tikzpicture}
\end{document}
